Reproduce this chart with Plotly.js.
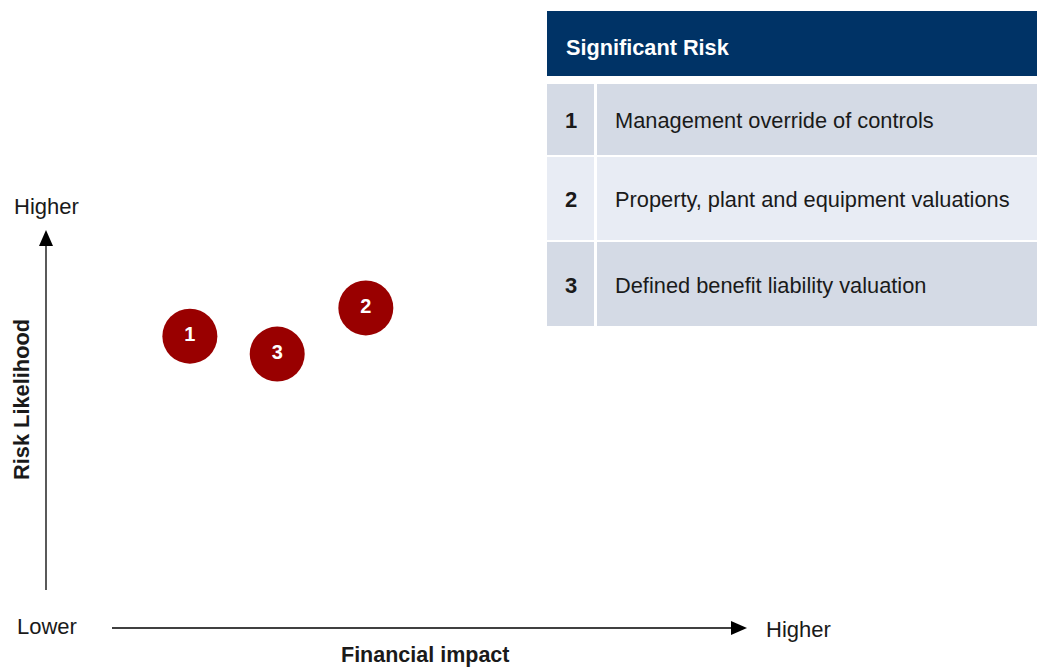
<!DOCTYPE html>
<html>
<head>
<meta charset="utf-8">
<script src="https://cdn.plot.ly/plotly-3.0.1.min.js"></script>
<style>html,body{margin:0;padding:0;background:#fff;}#chart{width:1037px;height:668px;}</style>
</head>
<body>
<div id="chart"></div>
<script>
// ---- data ----
const riskIds = ["1", "2", "3"];
const riskNames = [
  "Management override of controls",
  "Property, plant and equipment valuations",
  "Defined benefit liability valuation"
];
const financialImpact = [1.23, 4.01, 2.61];   // 0-10 scale along the horizontal arrow
const riskLikelihood = [7.09, 7.88, 6.59];    // 0-10 scale along the vertical arrow
const tableTitle = "Significant Risk";
const xAxisTitle = "Financial impact";
const yAxisTitle = "Risk Likelihood";
const lowLabel = "Lower";
const highLabel = "Higher";

// ---- layout helpers ----
const W = 1037, H = 668;
const px = x => x / W;
const py = y => 1 - y / H;
const FONT = '"Liberation Sans Narrow", "Arial Narrow", "Liberation Sans", Arial, sans-serif';
const navy = "#003366";
const rowColors = ["#d4dae5", "#e8ecf4", "#d4dae5"];
const rowTops = [84, 157, 242];
const rowBots = [155, 240, 326];

const shapes = [];
const annotations = [];

// table header
shapes.push({type: "rect", xref: "paper", yref: "paper", x0: px(547), x1: px(1037), y0: py(76), y1: py(11), fillcolor: navy, line: {width: 0}, layer: "below"});
annotations.push({xref: "paper", yref: "paper", x: px(564), y: py(47), xanchor: "left", yanchor: "middle", text: "<b>" + tableTitle + "</b>", showarrow: false, font: {family: FONT, size: 21.7, color: "#ffffff"}});

riskIds.forEach((id, i) => {
  shapes.push({type: "rect", xref: "paper", yref: "paper", x0: px(547), x1: px(594), y0: py(rowBots[i]), y1: py(rowTops[i]), fillcolor: rowColors[i], line: {width: 0}, layer: "below"});
  shapes.push({type: "rect", xref: "paper", yref: "paper", x0: px(597), x1: px(1037), y0: py(rowBots[i]), y1: py(rowTops[i]), fillcolor: rowColors[i], line: {width: 0}, layer: "below"});
  const cy = (rowTops[i] + rowBots[i]) / 2;
  annotations.push({xref: "paper", yref: "paper", x: px(571), y: py(cy + 1), xanchor: "center", yanchor: "middle", text: "<b>" + id + "</b>", showarrow: false, font: {family: FONT, size: 22, color: "#1a1a1a"}});
  annotations.push({xref: "paper", yref: "paper", x: px(613), y: py(cy + 1), xanchor: "left", yanchor: "middle", text: riskNames[i], showarrow: false, font: {family: FONT, size: 21.8, color: "#1a1a1a"}});
});

// vertical arrow
shapes.push({type: "line", xref: "paper", yref: "paper", x0: px(46), x1: px(46), y0: py(590), y1: py(244), line: {color: "#000", width: 1.3}});
shapes.push({type: "path", xref: "paper", yref: "paper", path: `M ${px(39)} ${py(246)} L ${px(53)} ${py(246)} L ${px(46)} ${py(230)} Z`, fillcolor: "#000", line: {width: 0}});
// horizontal arrow
shapes.push({type: "line", xref: "paper", yref: "paper", x0: px(112), x1: px(733), y0: py(628), y1: py(628), line: {color: "#000", width: 1.3}});
shapes.push({type: "path", xref: "paper", yref: "paper", path: `M ${px(731)} ${py(621)} L ${px(731)} ${py(635)} L ${px(747)} ${py(628)} Z`, fillcolor: "#000", line: {width: 0}});

// axis labels
annotations.push({xref: "paper", yref: "paper", x: px(46), y: py(206), xanchor: "center", yanchor: "middle", text: highLabel, showarrow: false, font: {family: FONT, size: 22, color: "#1a1a1a"}});
annotations.push({xref: "paper", yref: "paper", x: px(47), y: py(626), xanchor: "center", yanchor: "middle", text: lowLabel, showarrow: false, font: {family: FONT, size: 22, color: "#1a1a1a"}});
annotations.push({xref: "paper", yref: "paper", x: px(764), y: py(629), xanchor: "left", yanchor: "middle", text: highLabel, showarrow: false, font: {family: FONT, size: 22, color: "#1a1a1a"}});
annotations.push({xref: "paper", yref: "paper", x: px(425), y: py(655), xanchor: "center", yanchor: "middle", text: "<b>" + xAxisTitle + "</b>", showarrow: false, font: {family: FONT, size: 21.5, color: "#1a1a1a"}});
annotations.push({xref: "paper", yref: "paper", x: px(22), y: py(400), xanchor: "center", yanchor: "middle", text: "<b>" + yAxisTitle + "</b>", textangle: -90, showarrow: false, font: {family: FONT, size: 21.8, color: "#1a1a1a"}});

const trace = {
  type: "scatter",
  mode: "markers+text",
  x: financialImpact,
  y: riskLikelihood,
  text: riskIds.map(s => "<b>" + s + "</b>"),
  textposition: "middle center",
  textfont: {family: FONT, size: 20, color: "#ffffff"},
  marker: {size: 55, color: "#990000", line: {width: 0}},
  hoverinfo: "skip",
  cliponaxis: false
};

const layout = {
  width: W, height: H,
  margin: {l: 0, r: 0, t: 0, b: 0},
  paper_bgcolor: "#fff", plot_bgcolor: "rgba(0,0,0,0)",
  showlegend: false,
  xaxis: {domain: [px(112), px(745)], range: [0, 10], visible: false, fixedrange: true},
  yaxis: {domain: [py(590), py(232)], range: [0, 10], visible: false, fixedrange: true},
  shapes: shapes,
  annotations: annotations
};

Plotly.newPlot("chart", [trace], layout, {displayModeBar: false, staticPlot: true});
</script>
</body>
</html>
